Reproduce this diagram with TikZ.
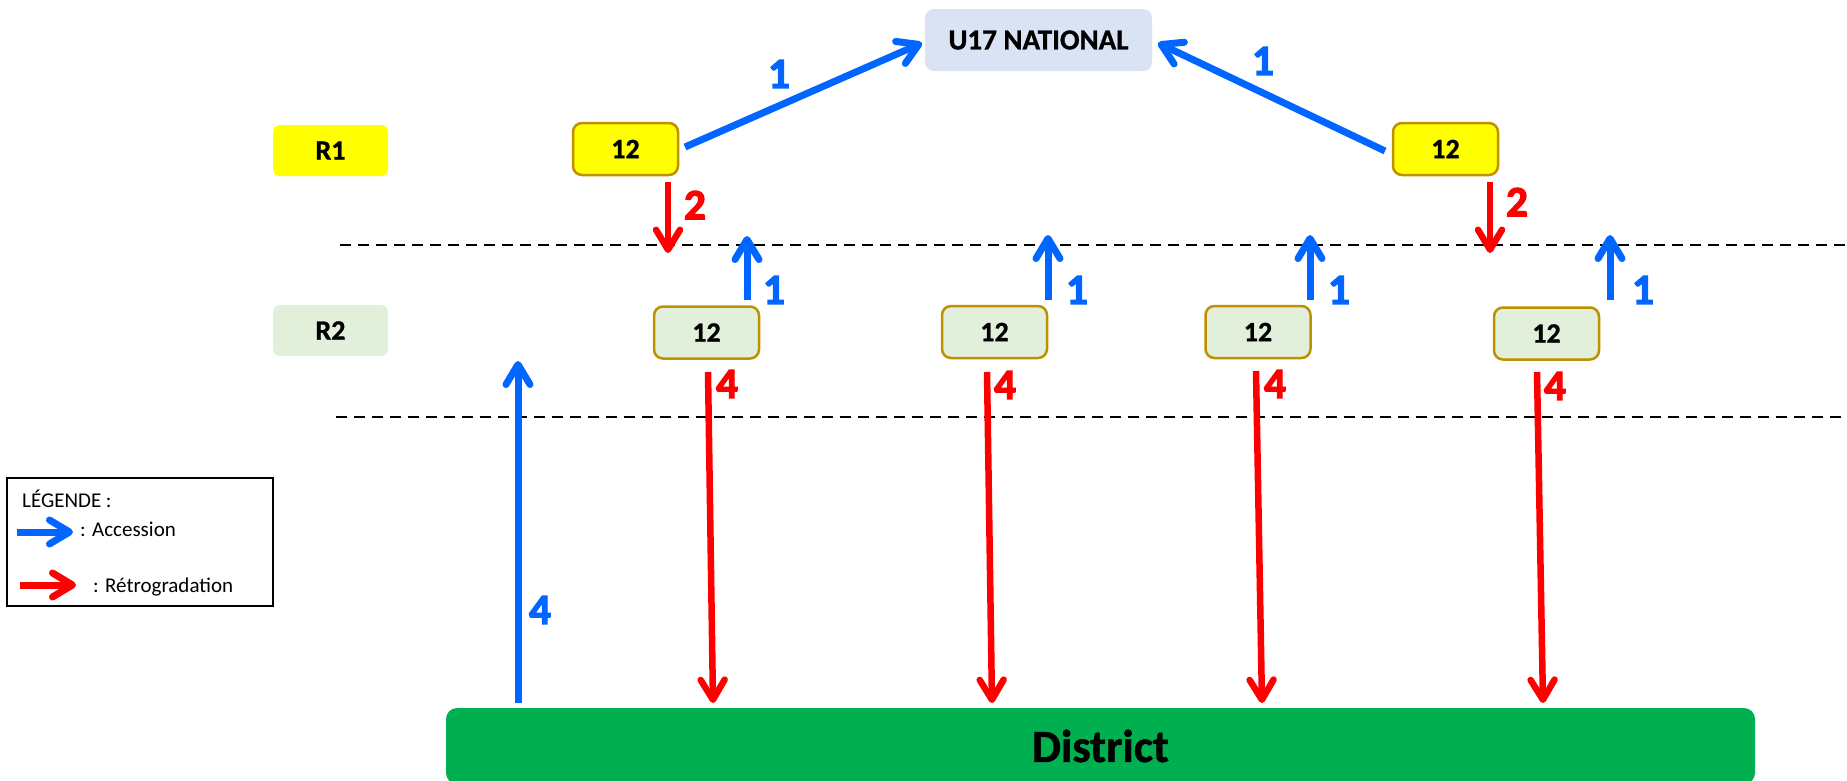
\documentclass[tikz,border=0pt]{standalone}
\usepackage{fontspec}
\setmainfont{Carlito}
\newfontfamily\labfam{Carlito}[BoldFeatures={FakeBold=3}]
\newfontfamily\boxfam{Carlito}[BoldFeatures={FakeBold=1}]
\usetikzlibrary{arrows.meta}
\definecolor{accblue}{HTML}{0066FF}
\definecolor{retred}{HTML}{FF0000}
\definecolor{goldb}{HTML}{BF9000}
\definecolor{natfill}{HTML}{DAE3F3}
\definecolor{rtwofill}{HTML}{E2EFDA}
\definecolor{distgreen}{HTML}{00B050}
\definecolor{ryellow}{HTML}{FFFF00}
\tikzset{
  natbox/.style={fill=natfill, rounded corners=9pt, minimum width=227pt, minimum height=62pt, inner sep=0pt, font=\boxfam\bfseries\fontsize{29}{31}\selectfont},
  lvlbox/.style={rounded corners=7pt, minimum width=115pt, minimum height=51pt, inner sep=0pt, font=\boxfam\bfseries\fontsize{28}{30}\selectfont},
  teambox/.style={draw=goldb, line width=2.5pt, rounded corners=9pt, minimum width=105pt, minimum height=52pt, inner sep=0pt, font=\boxfam\bfseries\fontsize{28}{30}\selectfont},
  distbox/.style={fill=distgreen, rounded corners=11pt, minimum width=1309pt, minimum height=76pt, inner sep=0pt, font=\boxfam\bfseries\fontsize{46}{50}\selectfont},
  acc/.style={draw=accblue, line width=7pt, -{Straight Barb[length=20pt,width=24pt,round]}},
  ret/.style={draw=retred, line width=6.5pt, -{Straight Barb[length=20pt,width=24pt,round]}},
  lab/.style={inner sep=0pt, font=\labfam\bfseries\fontsize{43}{45}\selectfont},
  sepline/.style={draw=black, line width=2.5pt, dash pattern=on 11pt off 7pt},
  legtext/.style={inner sep=0pt, anchor=base west, font=\fontsize{21}{24}\selectfont}
}
\begin{document}
\begin{tikzpicture}[x=1pt,y=-1pt]
\useasboundingbox (0,0) rectangle (1847,780);

% separators
\coordinate (s1a) at (340,245); \coordinate (s1b) at (1847,245);
\coordinate (s2a) at (336,417); \coordinate (s2b) at (1847,417);
\draw[sepline] (s1a) -- (s1b);
\draw[sepline] (s2a) -- (s2b);

% boxes
\node[natbox] (nat) at (1038.5,40) {U17 NATIONAL};
\node[lvlbox, fill=ryellow] (r1) at (330.5,150.5) {R1};
\node[lvlbox, fill=rtwofill] (r2) at (330.5,330.5) {R2};
\node[teambox, fill=ryellow] (a1) at (625.5,149) {12};
\node[teambox, fill=ryellow] (a2) at (1445.5,149) {12};
\node[teambox, fill=rtwofill] (b1) at (706.5,332.5) {12};
\node[teambox, fill=rtwofill] (b2) at (994.5,332) {12};
\node[teambox, fill=rtwofill] (b3) at (1258,332) {12};
\node[teambox, fill=rtwofill] (b4) at (1546.5,333.5) {12};
\node[distbox] (dist) at (1100.5,746) {District};

% R1 -> national
\coordinate (a1o) at (685,147); \coordinate (nati) at (922,43);
\coordinate (a2o) at (1385,151); \coordinate (natj) at (1158,43);
\draw[acc] (a1o) -- (nati);
\draw[acc] (a2o) -- (natj);
\node[lab, text=accblue] (l1a) at (779,74) {1};
\node[lab, text=accblue] (l1b) at (1263,61) {1};

% R1 -> R2 relegation
\coordinate (a1d) at (668,182); \coordinate (a1e) at (668,253);
\coordinate (a2d) at (1490,182); \coordinate (a2e) at (1490,253);
\draw[ret] (a1d) -- (a1e);
\draw[ret] (a2d) -- (a2e);
\node[lab, text=retred] (l2a) at (695,205) {2};
\node[lab, text=retred] (l2b) at (1517,202) {2};

% R2 -> R1 accession
\coordinate (b1u) at (747,300); \coordinate (b1v) at (747,236);
\coordinate (b2u) at (1048,300); \coordinate (b2v) at (1048,235);
\coordinate (b3u) at (1310,300); \coordinate (b3v) at (1310,235);
\coordinate (b4u) at (1610,300); \coordinate (b4v) at (1610,235);
\draw[acc] (b1u) -- (b1v);
\draw[acc] (b2u) -- (b2v);
\draw[acc] (b3u) -- (b3v);
\draw[acc] (b4u) -- (b4v);
\node[lab, text=accblue] (l1c) at (774,290) {1};
\node[lab, text=accblue] (l1d) at (1077,290) {1};
\node[lab, text=accblue] (l1e) at (1339,290) {1};
\node[lab, text=accblue] (l1f) at (1643,290) {1};

% R2 -> District relegation
\coordinate (b1d) at (708,372); \coordinate (b1e) at (713,703);
\coordinate (b2d) at (987,372); \coordinate (b2e) at (992,703);
\coordinate (b3d) at (1256,371); \coordinate (b3e) at (1262,703);
\coordinate (b4d) at (1537,372); \coordinate (b4e) at (1543,703);
\draw[ret] (b1d) -- (b1e);
\draw[ret] (b2d) -- (b2e);
\draw[ret] (b3d) -- (b3e);
\draw[ret] (b4d) -- (b4e);
\node[lab, text=retred] (l4a) at (727,384) {4};
\node[lab, text=retred] (l4b) at (1005,385) {4};
\node[lab, text=retred] (l4c) at (1275,384) {4};
\node[lab, text=retred] (l4d) at (1555,386) {4};

% District -> R2 accession
\coordinate (du) at (518,703); \coordinate (dv) at (518,361);
\draw[acc] (du) -- (dv);
\node[lab, text=accblue] (l4e) at (540,610) {4};

% legend
\node[draw=black, line width=2.5pt, minimum width=266pt, minimum height=128pt, inner sep=0pt] (legend) at (140,542) {};
\node[legtext] (legt) at (22,507) {LÉGENDE :};
\coordinate (lga) at (17,532); \coordinate (lgb) at (73,532);
\draw[acc, line width=7pt] (lga) -- (lgb);
\node[legtext] (lacc) at (80,536) {: Accession};
\coordinate (lra) at (20,585); \coordinate (lrb) at (76,585);
\draw[ret, line width=7pt] (lra) -- (lrb);
\node[legtext] (lret) at (93,592) {: Rétrogradation};
\end{tikzpicture}
\end{document}
